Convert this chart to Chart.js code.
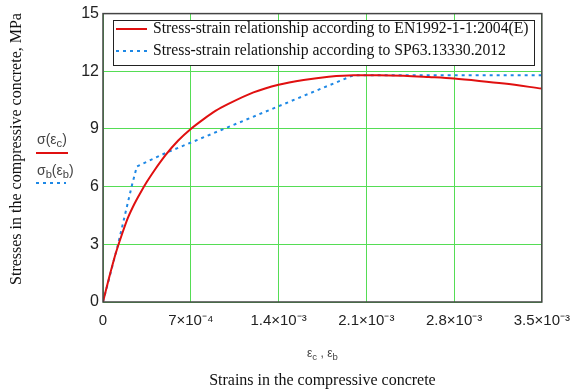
<!DOCTYPE html>
<html>
<head>
<meta charset="utf-8">
<script src="https://cdn.jsdelivr.net/npm/chart.js@4.4.1/dist/chart.umd.min.js"></script>
<style>
  html, body { margin: 0; padding: 0; background: #fff; }
</style>
</head>
<body>
<canvas id="chart" width="580" height="392"></canvas>
<script>
// EN1992-1-1 curve (strain, MPa)
const strainEN = [0, 0.00005, 0.0001, 0.00015, 0.0002, 0.00025, 0.0003, 0.00035, 0.0004, 0.0005,
    0.0006, 0.0007, 0.0008, 0.0009, 0.001, 0.0012, 0.0014, 0.0016, 0.0018, 0.002, 0.0022,
    0.0024, 0.0026, 0.0028, 0.003, 0.0032, 0.0035];
const stressEN = [0, 1.3, 2.5, 3.5, 4.4, 5.1, 5.7, 6.25, 6.75, 7.65,
    8.4, 9.0, 9.5, 9.95, 10.3, 10.9, 11.3, 11.55, 11.72, 11.8, 11.8,
    11.77, 11.7, 11.62, 11.5, 11.36, 11.1];

// SP63.13330 curve
const strainSP = [0, 0.00012, 0.00023, 0.00027, 0.0005, 0.002, 0.0035];
const stressSP = [0, 3.0, 6.05, 7.05, 7.75, 11.8, 11.8];

const xTickValues = [0, 0.0007, 0.0014, 0.0021, 0.0028, 0.0035];
const xTickLabels = ['0', '7×10⁻⁴', '1.4×10⁻³', '2.1×10⁻³', '2.8×10⁻³', '3.5×10⁻³'];
const yTickValues = [0, 3, 6, 9, 12, 15];

const legendLabels = [
    'Stress-strain relationship according to EN1992-1-1:2004(E)',
    'Stress-strain relationship according to SP63.13330.2012'
];

const RED = '#e01010';
const BLUE = '#1e88e5';
const GRID = '#55dd55';

function drawParts(ctx, x, y, parts, size) {
    // parts: [text, sub?]
    for (const [text, sub] of parts) {
        ctx.font = (sub ? size * 0.8 : size) + 'px "Liberation Sans", Arial, sans-serif';
        ctx.fillText(text, x, sub ? y + size * 0.3 : y);
        x += ctx.measureText(text).width;
    }
}

const decorPlugin = {
    id: 'decor',
    afterDatasetsDraw(chart) {
        const { ctx, chartArea: a } = chart;
        ctx.save();
        // plot frame
        ctx.strokeStyle = '#444';
        ctx.lineWidth = 1.5;
        ctx.strokeRect(a.left, a.top, a.right - a.left, a.bottom - a.top);

        // legend box inside the plot
        ctx.fillStyle = '#fff';
        ctx.fillRect(113, 20, 421, 45);
        ctx.strokeStyle = '#222';
        ctx.lineWidth = 1;
        ctx.strokeRect(113.5, 20.5, 421, 45);

        ctx.lineWidth = 2;
        ctx.strokeStyle = RED;
        ctx.beginPath(); ctx.moveTo(116, 29); ctx.lineTo(147, 29); ctx.stroke();
        ctx.strokeStyle = BLUE;
        ctx.setLineDash([3, 4]);
        ctx.beginPath(); ctx.moveTo(116, 51); ctx.lineTo(147, 51); ctx.stroke();
        ctx.setLineDash([]);

        ctx.fillStyle = '#111';
        ctx.font = '15.7px "Liberation Serif", "Times New Roman", serif';
        ctx.textBaseline = 'middle';
        ctx.textAlign = 'left';
        ctx.fillText(legendLabels[0], 153, 29);
        ctx.fillText(legendLabels[1], 153, 51);

        // left-hand series labels
        ctx.fillStyle = '#444';
        drawParts(ctx, 37, 140, [['σ(ε', false], ['c', true], [')', false]], 14);
        drawParts(ctx, 37, 171, [['σ', false], ['b', true], ['(ε', false], ['b', true], [')', false]], 14);
        ctx.lineWidth = 2;
        ctx.strokeStyle = RED;
        ctx.beginPath(); ctx.moveTo(36, 153); ctx.lineTo(68, 153); ctx.stroke();
        ctx.strokeStyle = BLUE;
        ctx.setLineDash([3, 4]);
        ctx.beginPath(); ctx.moveTo(36, 183); ctx.lineTo(66, 183); ctx.stroke();
        ctx.setLineDash([]);

        // x variable label
        drawParts(ctx, 307, 354, [['ε', false], ['c', true], [' , ε', false], ['b', true]], 12);

        // axis titles
        ctx.fillStyle = '#111';
        ctx.font = '16px "Liberation Serif", "Times New Roman", serif';
        ctx.textAlign = 'center';
        ctx.fillText('Strains in the compressive concrete', (a.left + a.right) / 2, 381);
        ctx.translate(17, 149);
        ctx.rotate(-Math.PI / 2);
        ctx.fillText('Stresses in the compressive concrete, MPa', 0, 0);
        ctx.restore();
    }
};

new Chart(document.getElementById('chart'), {
    type: 'line',
    data: {
        datasets: [
            {
                label: legendLabels[0],
                data: strainEN.map((x, i) => ({ x, y: stressEN[i] })),
                borderColor: RED,
                borderWidth: 2,
                pointRadius: 0,
                cubicInterpolationMode: 'monotone'
            },
            {
                label: legendLabels[1],
                data: strainSP.map((x, i) => ({ x, y: stressSP[i] })),
                borderColor: BLUE,
                borderWidth: 2,
                borderDash: [3, 4],
                pointRadius: 0,
                tension: 0
            }
        ]
    },
    options: {
        responsive: false,
        animation: false,
        devicePixelRatio: 1,
        layout: { padding: { left: 0, top: 11, right: 37, bottom: 0 } },
        plugins: {
            legend: { display: false },
            tooltip: { enabled: false }
        },
        scales: {
            x: {
                type: 'linear',
                min: 0,
                max: 0.0035,
                afterBuildTicks: (scale) => { scale.ticks = xTickValues.map((v) => ({ value: v })); },
                afterFit: (scale) => { scale.height = 90; },
                grid: { color: GRID, lineWidth: 1, drawTicks: false },
                border: { display: false },
                ticks: {
                    padding: 10,
                    color: '#222',
                    font: { family: '"Liberation Sans", Arial, sans-serif', size: 15 },
                    maxRotation: 0,
                    autoSkip: false,
                    callback: (v) => {
                        const i = xTickValues.findIndex((t) => Math.abs(t - v) < 1e-9);
                        return i >= 0 ? xTickLabels[i] : '';
                    }
                }
            },
            y: {
                min: 0,
                max: 15,
                afterBuildTicks: (scale) => { scale.ticks = yTickValues.map((v) => ({ value: v })); },
                afterFit: (scale) => { scale.width = 103; },
                grid: { color: GRID, lineWidth: 1, drawTicks: false },
                border: { display: false },
                ticks: {
                    padding: 4,
                    color: '#222',
                    font: { family: '"Liberation Sans", Arial, sans-serif', size: 16 }
                }
            }
        }
    },
    plugins: [decorPlugin]
});
</script>
</body>
</html>
